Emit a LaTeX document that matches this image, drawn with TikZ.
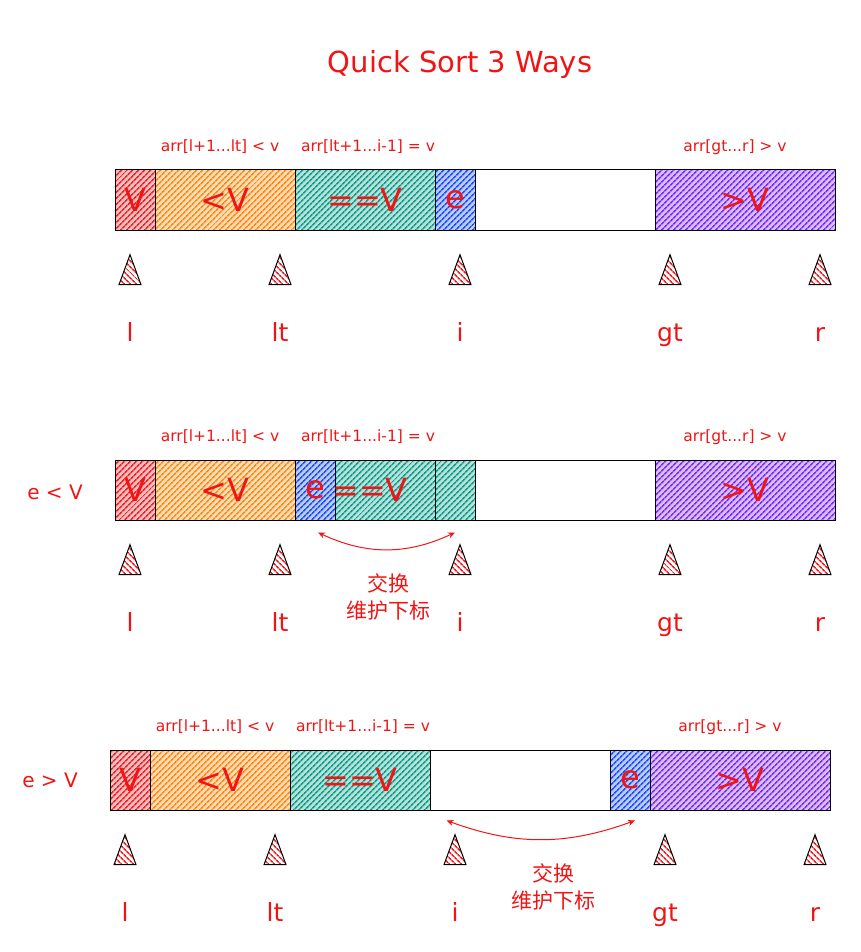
\documentclass[tikz,border=0pt]{standalone}
\usepackage{fontspec}
\setmainfont{DejaVu Sans}
\newfontfamily\cjk{Noto Sans CJK SC}
\usetikzlibrary{arrows.meta, positioning, patterns.meta, shapes.geometric}

\definecolor{inkred}{HTML}{F01414}
\definecolor{cellred}{HTML}{E8262A}
\definecolor{cellorange}{HTML}{FD8A10}
\definecolor{cellteal}{HTML}{0F9C88}
\definecolor{cellblue}{HTML}{1E50F0}
\definecolor{cellpurple}{HTML}{7C2BF5}

\tikzset{
  cell/.style={draw=black, line width=1pt, minimum height=60pt, inner sep=0pt,
    text=inkred, font=\fontsize{32}{32}\selectfont},
  hatch/.style={preaction={fill=#1!30}, pattern={Lines[angle=45,distance=4pt,line width=1.7pt]},
    pattern color=#1},
  rangelabel/.style={text=inkred, font=\fontsize{15.5}{15.5}\selectfont},
  idxlabel/.style={text=inkred, font=\fontsize{25}{25}\selectfont, anchor=base},
  pointer/.style={isosceles triangle, isosceles triangle stretches, shape border rotate=90,
    minimum width=22pt, minimum height=30pt, inner sep=0pt, draw=black, line width=1pt,
    preaction={fill=white}, pattern={Lines[angle=-45,distance=4pt,line width=1.6pt]},
    pattern color=cellred},
  swaparrow/.style={<->, >={Stealth[length=7pt,width=6pt]}, draw=inkred, line width=1pt},
  swapnote/.style={text=inkred, font=\cjk\fontsize{21}{27}\selectfont, align=center},
}

\begin{document}
\begin{tikzpicture}[x=1pt, y=-1pt]
\useasboundingbox (0,0) rectangle (861,952);

\node [text=inkred, font=\fontsize{29}{29}\selectfont] (title) at (460,65) {Quick Sort 3 Ways};

% first row
\draw [black, line width=1pt] (115,170) rectangle (835,230);
\node [cell, hatch=cellred,    minimum width=40pt]  (a1) at (135,200) {V};
\node [cell, hatch=cellorange, minimum width=140pt] (a2) at (225,200) {<V};
\node [cell, hatch=cellteal,   minimum width=140pt] (a3) at (365,200) {==V};
\node [cell, hatch=cellblue,   minimum width=40pt]  (a4) at (455,200) {e};
\node [cell, hatch=cellpurple, minimum width=180pt] (a6) at (745,200) {>V};
\node [rangelabel] (ra1) at (220,147) {arr[l+1...lt] < v};
\node [rangelabel] (ra2) at (368,147) {arr[lt+1...i-1] = v};
\node [rangelabel] (ra3) at (735,147) {arr[gt...r] > v};
\foreach \nm/\x in {l/130, lt/280, i/460, gt/670, r/820} {
  \node [pointer] (pa\nm) at (\x,277) {};
  \node [idxlabel] (na\nm) at (\x,341) {\nm};
}

% second row: e < v
\node [text=inkred, font=\fontsize{20}{20}\selectfont] (cb) at (55,492) {e < V};
\draw [black, line width=1pt] (115,460) rectangle (835,520);
\node [cell, hatch=cellred,    minimum width=40pt]  (b1) at (135,490) {V};
\node [cell, hatch=cellorange, minimum width=140pt] (b2) at (225,490) {<V};
\node [cell, hatch=cellblue,   minimum width=40pt]  (b3) at (315,490) {e};
\node [cell, hatch=cellteal,   minimum width=100pt] (b4) at (385,490) {};
\node [cell, hatch=cellteal,   minimum width=40pt]  (b5) at (455,490) {};
\node [cell, hatch=cellpurple, minimum width=180pt] (b6) at (745,490) {>V};
\node [cell, draw=none] (b4t) at (370,490) {==V};
\node [rangelabel] (rb1) at (220,437) {arr[l+1...lt] < v};
\node [rangelabel] (rb2) at (368,437) {arr[lt+1...i-1] = v};
\node [rangelabel] (rb3) at (735,437) {arr[gt...r] > v};
\draw [swaparrow] ([xshift=3pt,yshift=-12pt]b3.south) to[bend right=25] ([yshift=-12pt]b5.south);
\node [swapnote] (tb) at (388,597) {交换\\维护下标};
\foreach \nm/\x in {l/130, lt/280, i/460, gt/670, r/820} {
  \node [pointer] (pb\nm) at (\x,567) {};
  \node [idxlabel] (nb\nm) at (\x,631) {\nm};
}

% third row: e > v
\node [text=inkred, font=\fontsize{20}{20}\selectfont] (cc) at (50,780) {e > V};
\draw [black, line width=1pt] (110,750) rectangle (830,810);
\node [cell, hatch=cellred,    minimum width=40pt]  (c1) at (130,780) {V};
\node [cell, hatch=cellorange, minimum width=140pt] (c2) at (220,780) {<V};
\node [cell, hatch=cellteal,   minimum width=140pt] (c3) at (360,780) {==V};
\node [cell, minimum width=180pt] (c4) at (520,780) {};
\node [cell, hatch=cellblue,   minimum width=40pt]  (c5) at (630,780) {e};
\node [cell, hatch=cellpurple, minimum width=180pt] (c6) at (740,780) {>V};
\node [rangelabel] (rc1) at (215,727) {arr[l+1...lt] < v};
\node [rangelabel] (rc2) at (363,727) {arr[lt+1...i-1] = v};
\node [rangelabel] (rc3) at (730,727) {arr[gt...r] > v};
\draw [swaparrow] ([xshift=17pt,yshift=-10pt]c4.south west) to[bend right=20] ([xshift=5pt,yshift=-10pt]c5.south);
\node [swapnote] (tc) at (553,887) {交换\\维护下标};
\foreach \nm/\x in {l/125, lt/275, i/455, gt/665, r/815} {
  \node [pointer] (pc\nm) at (\x,857) {};
  \node [idxlabel] (nc\nm) at (\x,921) {\nm};
}
\end{tikzpicture}
\end{document}
